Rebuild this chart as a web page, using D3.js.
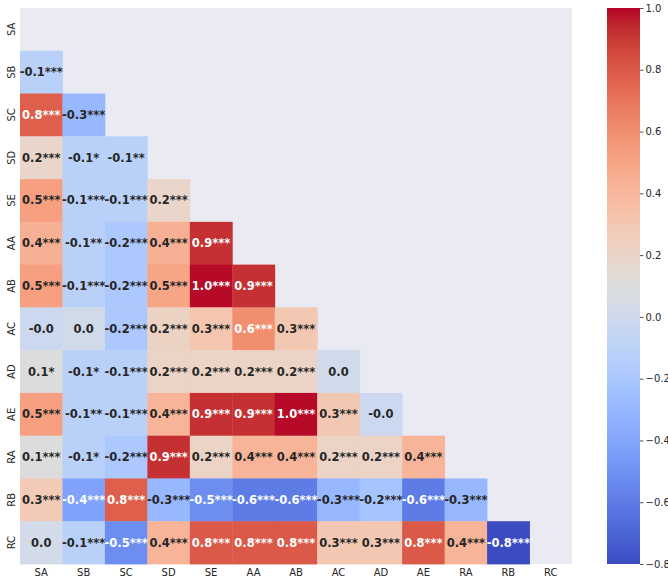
<!DOCTYPE html>
<html>
<head>
<meta charset="utf-8">
<script src="https://cdn.jsdelivr.net/npm/d3@7"></script>
<style>
  body { margin: 0; background: #ffffff; }
  text { font-family: "DejaVu Sans", sans-serif; }
</style>
</head>
<body>
<svg id="heatmap"></svg>
<script>
// variables, same order on both axes
const variables = ["SA", "SB", "SC", "SD", "SE", "AA", "AB", "AC", "AD", "AE", "RA", "RB", "RC"]

// lower triangle of the correlation matrix, row by row
const corrValues = [
	[],
	[-0.12],
	[0.78, -0.30],
	[0.19, -0.12, -0.12],
	[0.52, -0.12, -0.12, 0.19],
	[0.44, -0.12, -0.19, 0.44, 0.92],
	[0.52, -0.12, -0.19, 0.50, 0.99, 0.92],
	[-0.02, 0.02, -0.19, 0.22, 0.31, 0.60, 0.30],
	[0.10, -0.12, -0.12, 0.21, 0.21, 0.21, 0.21, 0.01],
	[0.52, -0.12, -0.12, 0.42, 0.92, 0.92, 0.99, 0.30, -0.02],
	[0.10, -0.12, -0.19, 0.92, 0.21, 0.42, 0.42, 0.21, 0.21, 0.42],
	[0.28, -0.42, 0.78, -0.30, -0.52, -0.60, -0.60, -0.30, -0.22, -0.60, -0.30],
	[0.03, -0.12, -0.52, 0.42, 0.80, 0.80, 0.80, 0.30, 0.30, 0.80, 0.42, -0.80]
]

// significance stars for the same cells
const sigStars = [
	[],
	["***"],
	["***", "***"],
	["***", "*", "**"],
	["***", "***", "***", "***"],
	["***", "**", "***", "***", "***"],
	["***", "***", "***", "***", "***", "***"],
	["", "", "***", "***", "***", "***", "***"],
	["*", "*", "***", "***", "***", "***", "***", ""],
	["***", "**", "***", "***", "***", "***", "***", "***", ""],
	["***", "*", "***", "***", "***", "***", "***", "***", "***", "***"],
	["***", "***", "***", "***", "***", "***", "***", "***", "***", "***", "***"],
	["", "***", "***", "***", "***", "***", "***", "***", "***", "***", "***", "***"]
]

const colorTicks = [1.0, 0.8, 0.6, 0.4, 0.2, 0.0, -0.2, -0.4, -0.6, -0.8]
const vmin = -0.8
const vmax = 1.0

// coolwarm (Moreland) control points
const coolwarm = [
	[59, 76, 192], [68, 90, 204], [77, 104, 215], [87, 117, 225], [98, 130, 234],
	[108, 142, 241], [119, 154, 247], [130, 165, 251], [141, 176, 254], [152, 185, 255],
	[163, 194, 255], [174, 201, 253], [184, 208, 249], [194, 213, 244], [204, 217, 238],
	[213, 219, 230], [221, 221, 221], [229, 216, 209], [236, 211, 197], [241, 204, 184],
	[245, 196, 173], [247, 187, 160], [247, 177, 148], [247, 166, 135], [244, 154, 123],
	[241, 141, 111], [236, 127, 99], [229, 112, 88], [222, 96, 77], [213, 80, 66],
	[203, 62, 56], [192, 40, 47], [180, 4, 38]
]

const width = 668
const height = 578

const svg = d3.select("#heatmap").attr("width", width).attr("height", height)

const x = d3.scaleBand().domain(variables).range([20, 572])
const y = d3.scaleBand().domain(variables).range([8, 564])

const interp = d3.interpolateRgbBasis(coolwarm.map(c => d3.rgb(c[0], c[1], c[2])))
const color = d3.scaleSequential(interp).domain([vmin, vmax]).clamp(true)

function luminance(c) {
	const rgb = d3.rgb(c)
	const lin = [rgb.r, rgb.g, rgb.b].map(v => {
		v = v / 255
		return v <= 0.03928 ? v / 12.92 : Math.pow((v + 0.055) / 1.055, 2.4)
	})
	return 0.2126 * lin[0] + 0.7152 * lin[1] + 0.0722 * lin[2]
}

// background of the masked area
svg.append("rect")
	.attr("x", 20).attr("y", 8)
	.attr("width", 552).attr("height", 556)
	.attr("fill", "#eaeaf2")

const cells = []
corrValues.forEach((row, i) => {
	row.forEach((v, j) => {
		cells.push({row: variables[i], col: variables[j], value: v, stars: sigStars[i][j]})
	})
})

svg.append("g")
	.selectAll("rect")
	.data(cells)
	.join("rect")
		.attr("x", d => x(d.col))
		.attr("y", d => y(d.row))
		.attr("width", x.bandwidth() + 0.4)
		.attr("height", y.bandwidth() + 0.4)
		.attr("fill", d => color(d.value))

svg.append("g")
	.selectAll("text")
	.data(cells)
	.join("text")
		.attr("x", d => x(d.col) + x.bandwidth() / 2)
		.attr("y", d => y(d.row) + y.bandwidth() / 2)
		.attr("text-anchor", "middle")
		.attr("dominant-baseline", "central")
		.attr("font-size", "11.5px")
		.attr("font-weight", "bold")
		.attr("fill", d => luminance(color(d.value)) > 0.408 ? "#262626" : "#ffffff")
		.text(d => d.value.toFixed(1) + d.stars)

// x tick labels
svg.append("g")
	.selectAll("text")
	.data(variables)
	.join("text")
		.attr("x", d => x(d) + x.bandwidth() / 2)
		.attr("y", 576)
		.attr("text-anchor", "middle")
		.attr("font-size", "10px")
		.attr("fill", "#262626")
		.text(d => d)

// y tick labels
svg.append("g")
	.selectAll("text")
	.data(variables)
	.join("text")
		.attr("transform", d => "translate(15," + (y(d) + y.bandwidth() / 2) + ") rotate(-90)")
		.attr("text-anchor", "middle")
		.attr("font-size", "10px")
		.attr("fill", "#262626")
		.text(d => d)

// COLORBAR
const cbY = d3.scaleLinear().domain([vmin, vmax]).range([564, 8])

const grad = svg.append("defs").append("linearGradient")
	.attr("id", "cbgrad")
	.attr("x1", 0).attr("y1", 1).attr("x2", 0).attr("y2", 0)

grad.selectAll("stop")
	.data(coolwarm)
	.join("stop")
		.attr("offset", (d, i) => i / (coolwarm.length - 1))
		.attr("stop-color", d => d3.rgb(d[0], d[1], d[2]))

svg.append("rect")
	.attr("x", 607).attr("y", 8)
	.attr("width", 33).attr("height", 556)
	.attr("fill", "url(#cbgrad)")

const cbAxis = svg.append("g")
	.attr("transform", "translate(640,0)")
	.call(d3.axisRight(cbY).tickValues(colorTicks).tickSize(3.5).tickPadding(2)
		.tickFormat(d3.format(".1f")))

cbAxis.select(".domain").remove()
cbAxis.selectAll("line").attr("stroke", "#262626").attr("stroke-width", 0.8)
cbAxis.selectAll("text")
	.attr("font-size", "10px")
	.attr("font-family", "DejaVu Sans, sans-serif")
	.attr("fill", "#262626")
</script>
</body>
</html>
